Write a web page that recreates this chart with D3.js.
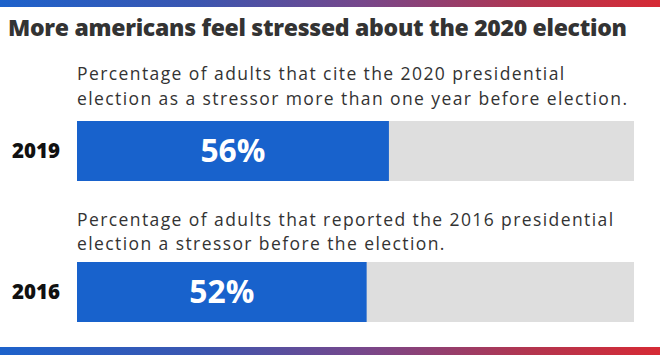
<!DOCTYPE html>
<html>
<head>
<meta charset="utf-8">
<script src="https://cdn.jsdelivr.net/npm/d3@7"></script>
<style>
html,body{margin:0;padding:0;background:#fff;}
svg{display:block;}
</style>
</head>
<body>
<script>
const title = "More americans feel stressed about the 2020 election";
const years = ["2019", "2016"];
const values = [56, 52];
const descriptions = [
  ["Percentage of adults that cite the 2020 presidential", "election as a stressor more than one year before election."],
  ["Percentage of adults that reported the 2016 presidential", "election a stressor before the election."]
];
const domainMax = 100;

const W = 660, H = 357;
const svg = d3.select("body").append("svg").attr("width", W).attr("height", H);

const defs = svg.append("defs");
const grad = defs.append("linearGradient").attr("id", "band").attr("x1", "0%").attr("x2", "100%");
grad.append("stop").attr("offset", "0%").attr("stop-color", "#1d62cb");
grad.append("stop").attr("offset", "30%").attr("stop-color", "#3b56b0");
grad.append("stop").attr("offset", "55%").attr("stop-color", "#77478b");
grad.append("stop").attr("offset", "80%").attr("stop-color", "#b2354f");
grad.append("stop").attr("offset", "100%").attr("stop-color", "#d62a35");

svg.append("rect").attr("x", 0).attr("y", 0).attr("width", W).attr("height", 7).attr("fill", "url(#band)");
svg.append("rect").attr("x", 0).attr("y", 347).attr("width", W).attr("height", 8).attr("fill", "url(#band)");

function fit(sel, target, base) {
  sel.attr("font-size", base);
  const w = sel.node().getComputedTextLength();
  const fs = base * target / w;
  sel.attr("font-size", Math.max(base * 0.85, Math.min(base * 1.15, fs)));
  return +sel.attr("font-size");
}
function spread(sel, target) {
  const w = sel.node().getComputedTextLength();
  const n = sel.text().length;
  const ls = (target - w) / (n - 1);
  sel.attr("letter-spacing", Math.max(-0.5, Math.min(1.5, ls)));
  return ls;
}

const t = svg.append("text").attr("x", 8).attr("y", 36)
  .attr("font-family", "'Open Sans', sans-serif").attr("font-weight", 800)
  .attr("font-size", 23).attr("fill", "#333").text(title);
spread(t, 619);

const x = d3.scaleLinear().domain([0, domainMax]).range([77, 634]);
const y = d3.scalePoint().domain(years).range([121, 262]);
const barH = 60;

const descFs = 17.5;
const probe = svg.append("text").attr("font-family", "'Open Sans', sans-serif")
  .attr("font-size", descFs).text(descriptions[0][1]);
const descLs = Math.max(0, spread(probe, 550));
probe.remove();

const descBase = [[80, 105], [226, 250]];
years.forEach((yr, i) => {
  const g = svg.append("g");
  descriptions[i].forEach((line, j) => {
    g.append("text").attr("x", x(0)).attr("y", descBase[i][j])
      .attr("font-family", "'Open Sans', sans-serif").attr("font-size", descFs)
      .attr("letter-spacing", descLs)
      .attr("fill", "#333").text(line);
  });
  g.append("rect").attr("x", x(0)).attr("y", y(yr)).attr("width", x(domainMax) - x(0)).attr("height", barH).attr("fill", "#dedede");
  g.append("rect").attr("x", x(0)).attr("y", y(yr)).attr("width", x(values[i]) - x(0)).attr("height", barH).attr("fill", "#1862cc");
  const yl = g.append("text").attr("x", 12).attr("y", y(yr) + barH / 2 + 7)
    .attr("font-family", "'Open Sans', sans-serif").attr("font-weight", 800)
    .attr("fill", "#111").text(yr);
  fit(yl, 48, 18);
  const pl = g.append("text").attr("x", (x(0) + x(values[i])) / 2).attr("y", y(yr) + barH / 2 + 11)
    .attr("text-anchor", "middle")
    .attr("font-family", "'Open Sans', sans-serif").attr("font-weight", 700)
    .attr("fill", "#fff").text(values[i] + "%");
  fit(pl, 65, 28);
});
</script>
</body>
</html>
